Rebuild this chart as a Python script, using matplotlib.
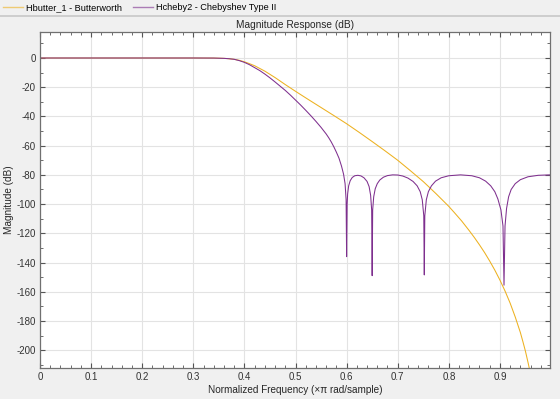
import numpy as np
import matplotlib
matplotlib.use("Agg")
import matplotlib.pyplot as plt
from matplotlib.lines import Line2D
from matplotlib.ticker import MultipleLocator

# readings (normalized freq, dB)
butter_f = [0, 0.1, 0.2, 0.3, 0.34, 0.36, 0.37, 0.38, 0.39, 0.4, 0.41, 0.42,
            0.44, 0.46, 0.48, 0.5, 0.525, 0.55, 0.575, 0.6, 0.625, 0.65, 0.675,
            0.7, 0.725, 0.75, 0.76, 0.775, 0.79, 0.8, 0.81, 0.825, 0.84, 0.85,
            0.86, 0.87, 0.88, 0.89, 0.9, 0.91, 0.92, 0.93, 0.94, 0.945, 0.95,
            0.955, 0.96]
butter_db = [0, 0, 0, 0, -0.05, -0.25, -0.5, -0.9, -1.6, -2.6, -3.9, -5.3,
             -9, -13.4, -18.2, -22.8, -28.4, -33.9, -39.4, -45, -51, -57.2, -63.5,
             -70, -77.2, -84.6, -87.9, -92.9, -98.1, -101.6, -105.5, -111.5,
             -118.2, -122.9, -127.9, -133.2, -139, -145.2, -152, -159.5, -167.8,
             -177.3, -187.9, -194.2, -200.8, -208.4, -216.4]

cheby_f = [0, 0.1, 0.2, 0.3, 0.34, 0.36, 0.37, 0.38, 0.39, 0.4, 0.41, 0.42,
           0.43, 0.44, 0.45, 0.46, 0.47, 0.48, 0.49, 0.5, 0.51, 0.52, 0.53,
           0.54, 0.55, 0.56, 0.565, 0.57, 0.575, 0.58, 0.585, 0.59, 0.594,
           0.597, 0.599, 0.6, 0.601, 0.602, 0.604, 0.607, 0.611, 0.616, 0.622,
           0.628, 0.634, 0.64, 0.644, 0.647, 0.649, 0.65, 0.651, 0.653, 0.656,
           0.66, 0.665, 0.672, 0.68, 0.69, 0.7, 0.71, 0.72, 0.73, 0.738, 0.744,
           0.748, 0.751, 0.752, 0.753, 0.756, 0.76, 0.766, 0.774, 0.785, 0.8,
           0.823, 0.845, 0.86, 0.872, 0.882, 0.89, 0.896, 0.902, 0.906, 0.908,
           0.91, 0.913, 0.917, 0.922, 0.93, 0.94, 0.955, 0.975, 0.998]
cheby_db = [0, 0, 0, 0, -0.05, -0.25, -0.5, -0.9, -1.8, -3, -4.6, -6.6,
            -8.6, -11, -13.6, -16.4, -19.3, -22.2, -25.4, -28.8, -32.2, -35.8,
            -39.5, -43.4, -47.5, -52, -54.6, -57.5, -60.8, -64.5, -68.5, -74,
            -79.5, -86, -97, -136, -100, -93, -87.5, -84, -81.8, -80.6, -80.3,
            -80.7, -82, -84.5, -88, -94, -104, -149, -104, -95, -89.5, -86,
            -83.5, -81.6, -80.5, -80, -80.1, -80.8, -82.2, -84.5, -87.5, -91.5,
            -97, -108, -148.5, -108, -97, -91.5, -87.5, -84.3, -82, -80.6, -80,
            -80.6, -82, -84.3, -87.5, -91.5, -96.5, -104, -115, -155.5, -115,
            -103, -95, -90, -86, -83.3, -81.3, -80.3, -80]

names = ["Hbutter_1 - Butterworth", "Hcheby2 - Chebyshev Type II"]
colors = ["#EDB120", "#7E2F8E"]

plt.rcParams["font.family"] = ["Liberation Sans", "DejaVu Sans"]
plt.rcParams["axes.unicode_minus"] = False

fig = plt.figure(figsize=(5.6, 3.99), dpi=100, facecolor="#f0f0f0")
ax = fig.add_axes([40 / 560, 1 - 367.7 / 399, 510 / 560, 336 / 399])
ax.set_facecolor("white")

ax.plot(butter_f, butter_db, color=colors[0], lw=0.75)
ax.plot(cheby_f, cheby_db, color=colors[1], lw=0.75)

ax.set_xlim(0, 0.998)
ax.set_ylim(-212, 18)
ax.xaxis.set_minor_locator(MultipleLocator(0.02))
ax.yaxis.set_major_locator(MultipleLocator(20))
ax.yaxis.set_minor_locator(MultipleLocator(10))
ax.set_xticks(np.arange(0, 1.0, 0.1))
ax.set_xticklabels(["0", "0.1", "0.2", "0.3", "0.4", "0.5", "0.6", "0.7", "0.8", "0.9"])
ax.grid(True, which="major", color="#e3e3e3", lw=0.8)
ax.set_axisbelow(True)

ax.tick_params(which="both", direction="in", top=True, right=True,
               colors="#555555", labelcolor="#333333", labelsize=7)
ax.tick_params(which="major", length=3.5, width=0.8, pad=3)
ax.tick_params(which="minor", length=2, width=0.6)
for s in ax.spines.values():
    s.set_color("#707070")
    s.set_linewidth(0.9)

ax.set_title("Magnitude Response (dB)", fontsize=7.3, color="#262626", pad=2.5)
ax.set_xlabel("Normalized Frequency (\u00d7\u03c0 rad/sample)", fontsize=7.2,
              color="#262626", labelpad=2)
ax.set_ylabel("Magnitude (dB)", fontsize=7.2, color="#262626", labelpad=1.5)

# legend strip at the top
handles = [Line2D([], [], color=c, lw=1.0, alpha=0.6) for c in colors]
fig.legend(handles, names, loc="center left", bbox_to_anchor=(0.0, 1 - 7.5 / 399),
           ncol=2, frameon=False, fontsize=6.6, handlelength=2.2,
           handletextpad=0.3, columnspacing=1.2, borderaxespad=0.0, borderpad=0.3)
fig.add_artist(Line2D([0, 1], [1 - 15.5 / 399] * 2, transform=fig.transFigure,
                      color="#c8c8c8", lw=1.2))

fig.savefig("out.png", dpi=100, facecolor=fig.get_facecolor())
